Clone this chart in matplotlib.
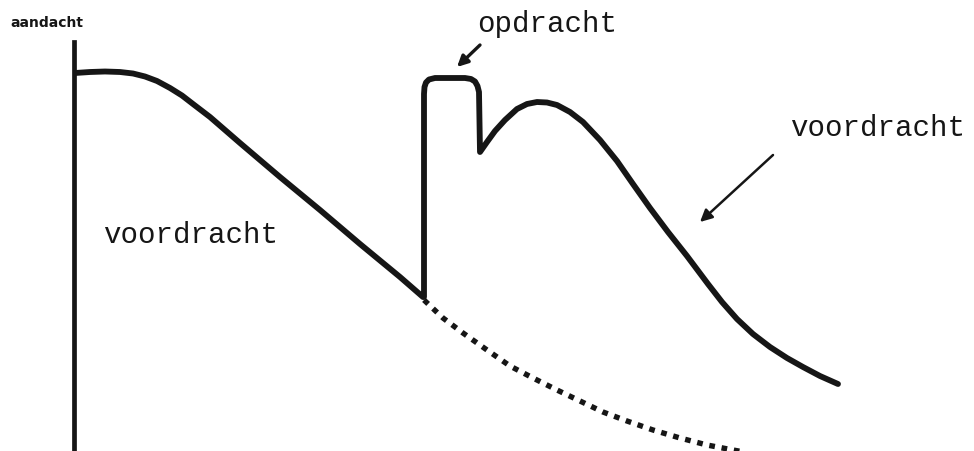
import matplotlib
matplotlib.use('Agg')
import matplotlib.pyplot as plt
import numpy as np

# time since start of the lesson (t) and attention level (a)
lecture_t = [1, 16, 31, 46, 59, 71, 83, 96, 108, 119, 136, 166, 206, 246, 286, 326, 349]
lecture_a = [378, 379, 379.5, 379, 377.5, 374.5, 370, 363, 355.5, 347, 334, 308, 274, 241, 207, 174, 154]

task_t = [350, 350, 350.5, 352, 355, 361, 391, 397, 401, 403.5, 405, 406]
task_a = [154, 357, 364, 368.5, 371.5, 373, 373, 372, 369.5, 365, 359, 299]

lecture2_t = [413, 421, 431, 443, 453, 463, 473, 483, 496, 509, 526, 543, 559, 576,
              594, 613, 634, 648, 663, 679, 696, 713, 729, 746, 764]
lecture2_a = [309, 320, 331, 342, 347, 349, 348.5, 346, 339, 329, 311, 290, 267, 243,
              219, 195, 167, 149, 132, 117, 104, 93, 84, 75, 67]

# what happens without the task
no_task_t = [350, 369, 389, 413, 436, 459, 483, 506, 529, 553, 579, 606, 633, 659, 686]
no_task_a = [151, 133, 118, 101, 85, 73, 61, 50, 39, 30, 21, 13, 6, 1, -4]

y_label = 'aandacht'
label_lecture = 'voordracht'
label_task = 'opdracht'

ink = '#161616'
mono = 'Liberation Mono'

fig = plt.figure(figsize=(9.74, 4.51), dpi=100)
ax = fig.add_axes([74 / 974, 0, 900 / 974, 1])
ax.set_xlim(0, 900)
ax.set_ylim(0, 451)
ax.patch.set_alpha(0)

for side in ['top', 'right', 'bottom']:
    ax.spines[side].set_visible(False)
ax.spines['left'].set_linewidth(3.4)
ax.spines['left'].set_color(ink)
ax.spines['left'].set_bounds(-5, 409)
ax.set_xticks([])
ax.set_yticks([])

# solid attention curve
curve_t = np.concatenate([lecture_t, task_t, lecture2_t])
curve_a = np.concatenate([lecture_a, task_a, lecture2_a])
ax.plot(curve_t, curve_a, color=ink, lw=4.2, solid_joinstyle='round',
        solid_capstyle='round')

# dotted continuation
ax.plot(no_task_t, no_task_a, color=ink, lw=3.9, dashes=(1.05, 1.25),
        dash_capstyle='butt')

ax.text(-64, 428, y_label, fontsize=10, fontweight='bold', color=ink,
        va='center', ha='left', family='DejaVu Sans')
ax.text(29, 216, label_lecture, fontsize=21, family=mono,
        color=ink, va='center', ha='left')
ax.text(716, 323, label_lecture, fontsize=21, family=mono,
        color=ink, va='center', ha='left')
ax.text(403, 427, label_task, fontsize=21, family=mono,
        color=ink, va='center', ha='left')

ax.annotate('', xy=(383, 384), xytext=(406, 406),
            arrowprops=dict(arrowstyle='-|>', color=ink, lw=2.4,
                            mutation_scale=16, shrinkA=0, shrinkB=0))
ax.annotate('', xy=(626, 229), xytext=(699, 296),
            arrowprops=dict(arrowstyle='-|>', color=ink, lw=1.8,
                            mutation_scale=18, shrinkA=0, shrinkB=0))

fig.savefig('out.png', dpi=100, facecolor='white')
